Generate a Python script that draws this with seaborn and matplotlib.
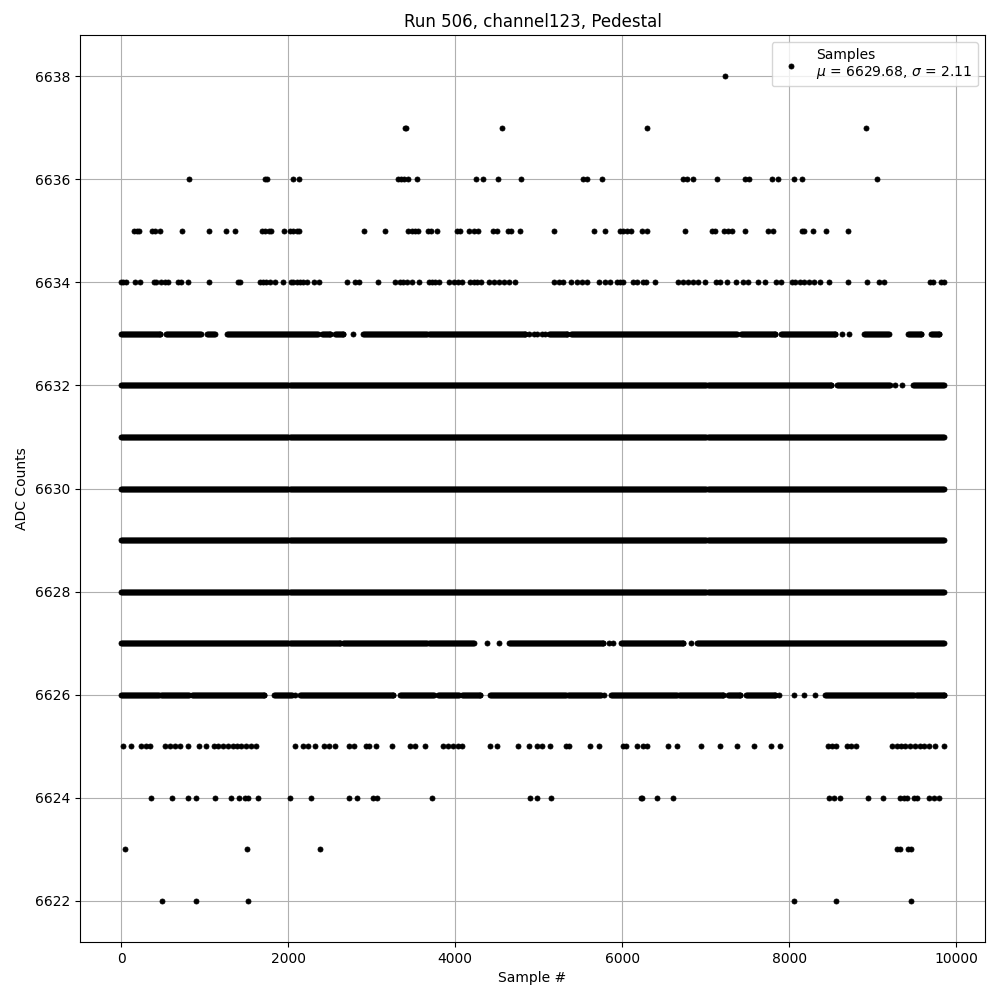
import numpy as np
import pandas as pd
import matplotlib
matplotlib.use("Agg")
import matplotlib.pyplot as plt
import seaborn as sns

# ---- data ----
title = "Run 506, channel123, Pedestal"
mu, sigma = 6629.68, 2.11

# isolated samples (sample index) for the sparse ADC levels
x_6638 = [7224]
x_6637 = [3396, 3410, 4556, 6300, 8922]
x_6636 = [812, 1725, 1750, 2060, 2132, 3320, 3352, 3392, 3430, 3548, 4248, 4328, 4508, 4788,
          5532, 5572, 5760, 6724, 6772, 6852, 7128, 7464, 7520, 7788, 7868, 8052, 8148, 9048]
x_6635 = [160, 188, 220, 368, 400, 464, 728, 1052, 1256, 1364, 1688, 1728, 1768, 1796, 1952,
          2020, 2060, 2100, 2132, 2912, 3164, 3440, 3480, 3520, 3560, 3672, 3712, 3780, 4020,
          4060, 4160, 4220, 4272, 4452, 4500, 4628, 4668, 4780, 5184, 5664, 5792, 5972, 6012,
          6052, 6100, 6240, 6300, 6756, 7072, 7112, 7220, 7260, 7312, 7472, 7744, 7800, 8152,
          8180, 8288, 8436, 8700]
x_6634 = [0, 28, 60, 172, 228, 388, 420, 472, 520, 560, 680, 720, 800, 1052, 1400, 1428, 1660,
          1700, 1740, 1788, 1848, 1940, 2028, 2060, 2100, 2140, 2180, 2228, 2312, 2372, 2708,
          2800, 2852, 3080, 3280, 3340, 3380, 3420, 3488, 3568, 3680, 3720, 3760, 3800, 3920,
          3980, 4028, 4080, 4180, 4220, 4260, 4308, 4400, 4460, 4520, 4580, 4640, 4720, 5184,
          5244, 5292, 5380, 5452, 5512, 5580, 5720, 5792, 5852, 5932, 5972, 6012, 6132, 6172,
          6252, 6284, 6396, 6672, 6732, 6792, 6852, 6912, 6992, 7120, 7172, 7252, 7360, 7440,
          7500, 7628, 7712, 7840, 7900, 8032, 8072, 8124, 8180, 8232, 8292, 8372, 8472, 8700,
          8928, 9072, 9132, 9680, 9720, 9820, 9849]
x_6625 = [20, 120, 240, 300, 348, 520, 580, 640, 700, 804, 932, 1012, 1108, 1160, 1220, 1280,
          1340, 1392, 1440, 1500, 1560, 1612, 2080, 2176, 2236, 2316, 2424, 2488, 2556, 2728,
          2788, 2936, 2968, 3052, 3240, 3456, 3516, 3640, 3856, 3916, 3976, 4036, 4076, 4416,
          4496, 4748, 4888, 4984, 5040, 5132, 5328, 5356, 5612, 5720, 6012, 6044, 6180, 6252,
          6292, 6544, 6652, 6944, 7172, 7372, 7572, 7780, 7892, 8460, 8512, 8564, 8684, 8732,
          8792, 9228, 9288, 9336, 9388, 9448, 9508, 9560, 9608, 9676, 9748, 9848]
x_6624 = [356, 608, 800, 896, 1124, 1316, 1412, 1484, 1524, 1640, 2024, 2276, 2732, 2828, 3012,
          3068, 3716, 4900, 4980, 5148, 6224, 6240, 6416, 6612, 8472, 8532, 8604, 8940, 9120,
          9324, 9372, 9412, 9492, 9532, 9672, 9732, 9792]
x_6623 = [48, 1508, 2384, 9284, 9324, 9424, 9452]
x_6622 = [488, 896, 1524, 8060, 8560, 9460]

# dense ADC levels: runs of consecutive samples (first, last sample index)
runs_6633 = [(0, 470), (540, 960), (1030, 1120), (1270, 2360), (2400, 2500), (2560, 2660),
             (2780, 2780), (2900, 4840), (4880, 4880), (4940, 4940), (4980, 4980), (5040, 5040),
             (5080, 5080), (5120, 5340), (5380, 7370), (7420, 7830), (7900, 8550), (8630, 8630),
             (8710, 8710), (8890, 9190), (9420, 9580), (9690, 9790)]
runs_6632 = [(0, 8500), (8570, 9200), (9260, 9260), (9350, 9350), (9480, 9849)]
runs_6631 = [(0, 9849)]
runs_6630 = [(0, 9849)]
runs_6629 = [(0, 9849)]
runs_6628 = [(0, 9849)]
runs_6627 = [(0, 2620), (2660, 4220), (4380, 4380), (4520, 4520), (4640, 5770), (5840, 5840),
             (5890, 5890), (5980, 6730), (6820, 6820), (6890, 9849)]
runs_6626 = [(0, 450), (480, 810), (845, 1710), (1830, 2040), (2080, 2080), (2140, 3260),
             (3340, 3740), (3790, 4040), (4080, 4300), (4420, 5740), (5780, 5780), (5860, 6650),
             (6680, 7210), (7260, 7410), (7480, 7830), (7880, 7880), (8050, 8050), (8170, 8170),
             (8310, 8310), (8430, 9849)]

# ---- assemble table ----
sparse = {6638: x_6638, 6637: x_6637, 6636: x_6636, 6635: x_6635, 6634: x_6634,
          6625: x_6625, 6624: x_6624, 6623: x_6623, 6622: x_6622}
dense = {6633: runs_6633, 6632: runs_6632, 6631: runs_6631, 6630: runs_6630,
         6629: runs_6629, 6628: runs_6628, 6627: runs_6627, 6626: runs_6626}

xs, ys = [], []
for level, xv in sparse.items():
    xs.extend(xv)
    ys.extend([level] * len(xv))
for level, runs in dense.items():
    for a, b in runs:
        seg = list(range(a, b + 1, 12))
        if seg[-1] != b:
            seg.append(b)
        xs.extend(seg)
        ys.extend([level] * len(seg))
df = pd.DataFrame({"sample": xs, "adc": ys})

# ---- plot ----
fig, ax = plt.subplots(figsize=(10, 10), dpi=100)
sns.scatterplot(data=df, x="sample", y="adc", ax=ax, s=13, color="black",
                edgecolor="black", linewidth=0.6, zorder=2.5,
                label="Samples\n$\\mu$ = %.2f, $\\sigma$ = %.2f" % (mu, sigma))
ax.set_xlim(-492, 10342)
ax.set_ylim(6621.2, 6638.8)
ax.set_yticks(range(6622, 6639, 2))
ax.set_xticks(range(0, 10001, 2000))
ax.set_title(title)
ax.set_xlabel("Sample #")
ax.set_ylabel("ADC Counts")
ax.grid(True)
ax.legend(loc="upper right")
fig.subplots_adjust(left=0.08, right=0.985, top=0.965, bottom=0.058)
fig.savefig("out.png", dpi=100)
